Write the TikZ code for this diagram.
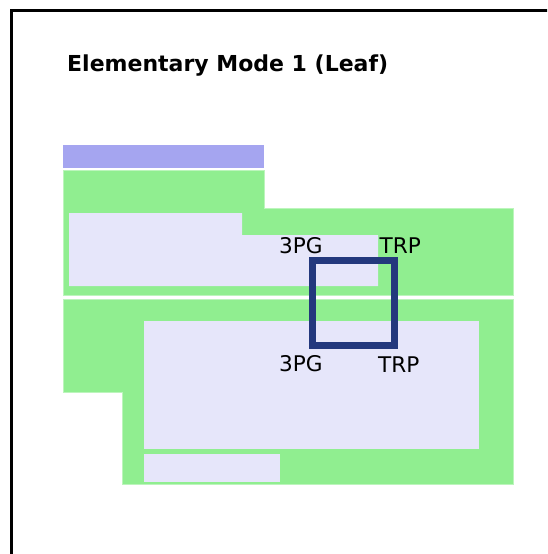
\documentclass[tikz,border=0pt]{standalone}
\usepackage{fontspec}
\setmainfont{DejaVu Sans}
\definecolor{compgreen}{HTML}{90EE90}
\definecolor{complav}{HTML}{E6E6FA}
\definecolor{compblue}{HTML}{A5A5F0}
\definecolor{rxnblue}{RGB}{35,56,125}
\begin{document}
\begin{tikzpicture}[x=1pt,y=-1pt,
  greenbox/.style={fill=compgreen,draw=compgreen!60!white,line width=0.6pt},
  lavbox/.style={fill=complav,draw=none},
  metab/.style={font=\fontsize{21.6}{24}\selectfont,inner sep=0pt,anchor=base west},
  rxn/.style={draw=rxnblue,line width=7pt}]
\useasboundingbox (0,0) rectangle (547,554);
\clip (0,0) rectangle (547,554);
\fill[white] (0,0) rectangle (547,554);
% frame
\draw[line width=3pt] (11.5,570) -- (11.5,10) -- (570,10);
% title
\node[font=\bfseries\fontsize{22}{26}\selectfont,inner sep=0pt,anchor=base west] (title) at (67,71) {Elementary Mode 1 (Leaf)};
% blue bar
\fill[compblue] (63,145) rectangle (264,167.5);
% top green compartment
\path[greenbox] (63,170) -- (264,170) -- (264,208) -- (513,208) -- (513,295) -- (63,295) -- cycle;
\path[lavbox] (69,213) -- (242,213) -- (242,235) -- (378,235) -- (378,286) -- (69,286) -- cycle;
% bottom green compartment
\path[greenbox] (63,299.5) -- (513,299.5) -- (513,484) -- (122.5,484) -- (122.5,392) -- (63,392) -- cycle;
\path[lavbox] (144,321) rectangle (478.5,449);
\path[lavbox] (144,454) rectangle (280,482);
% reaction square
\draw[rxn] (312.5,260.7) rectangle (394.2,345.3);
% labels
\node[metab] (pgtop) at (279,253.3) {3PG};
\node[metab] (trptop) at (379.5,253.3) {TRP};
\node[metab] (pgbot) at (279,371.7) {3PG};
\node[metab] (trpbot) at (378,372.7) {TRP};
\end{tikzpicture}
\end{document}
